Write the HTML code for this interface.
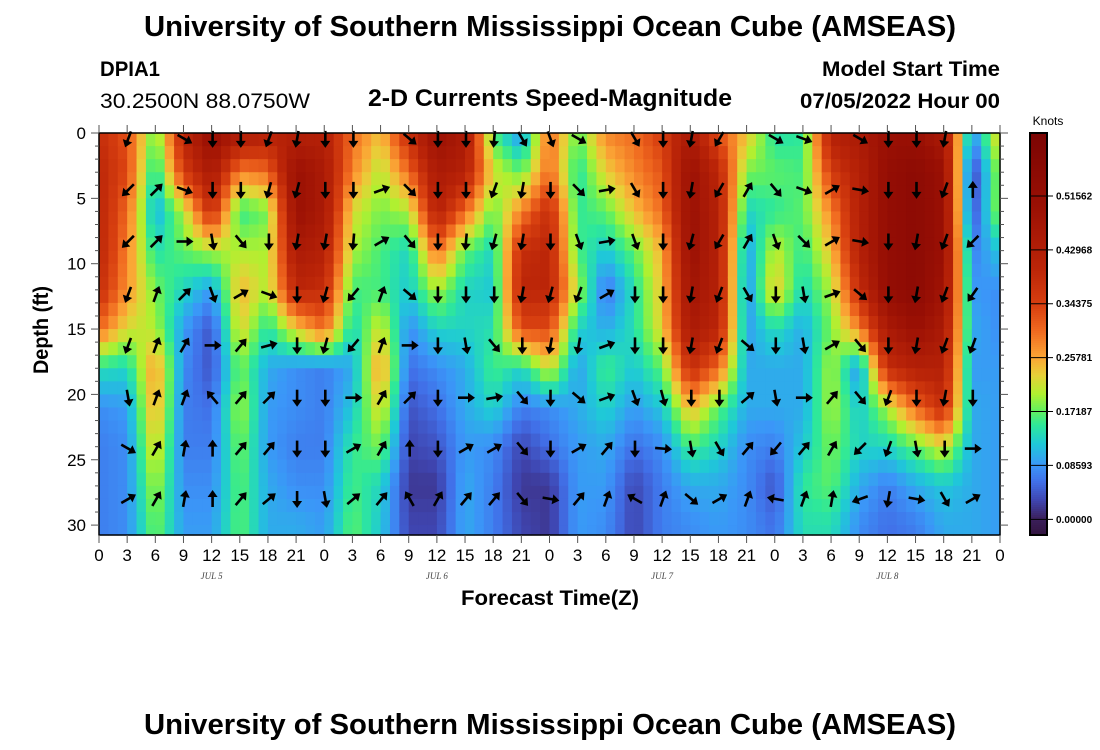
<!DOCTYPE html>
<html><head><meta charset="utf-8"><style>
html,body{margin:0;padding:0;background:#fff;}
svg{display:block;font-family:"Liberation Sans",sans-serif;}
</style></head><body>
<svg id="chart" width="1100" height="750" viewBox="0 0 1100 750" xmlns="http://www.w3.org/2000/svg">
<text x="550" y="36" text-anchor="middle" font-size="29" font-weight="bold" textLength="812" lengthAdjust="spacingAndGlyphs">University of Southern Mississippi Ocean Cube (AMSEAS)</text>
<text x="100" y="76" font-size="21" font-weight="bold" textLength="60" lengthAdjust="spacingAndGlyphs">DPIA1</text>
<text x="100" y="108" font-size="21" textLength="210" lengthAdjust="spacingAndGlyphs">30.2500N  88.0750W</text>
<text x="550" y="106" text-anchor="middle" font-size="24" font-weight="bold" textLength="364" lengthAdjust="spacingAndGlyphs">2-D Currents Speed-Magnitude</text>
<text x="1000" y="76" text-anchor="end" font-size="21" font-weight="bold" textLength="178" lengthAdjust="spacingAndGlyphs">Model Start Time</text>
<text x="1000" y="108" text-anchor="end" font-size="21" font-weight="bold" textLength="200" lengthAdjust="spacingAndGlyphs">07/05/2022 Hour 00</text>
<g id="heat"></g>
<g id="arrows"></g>
<g id="axes"></g>
<g id="cbar"></g>
<text x="48" y="330" transform="rotate(-90 48 330)" text-anchor="middle" font-size="21" font-weight="bold" textLength="88" lengthAdjust="spacingAndGlyphs">Depth (ft)</text>
<text x="550" y="605" text-anchor="middle" font-size="21" font-weight="bold" textLength="178" lengthAdjust="spacingAndGlyphs">Forecast Time(Z)</text>
<text x="550" y="734" text-anchor="middle" font-size="29" font-weight="bold" textLength="812" lengthAdjust="spacingAndGlyphs">University of Southern Mississippi Ocean Cube (AMSEAS)</text>
</svg>
<script>
const timeHours = [0,3,6,9,12,15,18,21,24,27,30,33,36,39,42,45,48,51,54,57,60,63,66,69,72,75,78,81,84,87,90,93,96];
const gridDepths = [0,3,6,9,12,15,18,21,24,27,30];
const speedByTime = [
[0.38,0.40,0.40,0.40,0.38,0.30,0.14,0.08,0.07,0.07,0.07],
[0.32,0.33,0.30,0.28,0.27,0.22,0.13,0.09,0.08,0.08,0.08],
[0.17,0.13,0.10,0.14,0.18,0.20,0.27,0.26,0.23,0.20,0.18],
[0.40,0.35,0.20,0.17,0.13,0.09,0.08,0.07,0.07,0.08,0.09],
[0.52,0.45,0.38,0.20,0.09,0.04,0.04,0.06,0.07,0.08,0.09],
[0.45,0.28,0.15,0.20,0.25,0.23,0.18,0.20,0.18,0.17,0.17],
[0.42,0.30,0.18,0.20,0.20,0.14,0.10,0.09,0.09,0.10,0.10],
[0.42,0.50,0.50,0.45,0.40,0.23,0.08,0.08,0.07,0.08,0.10],
[0.42,0.45,0.45,0.42,0.38,0.30,0.07,0.07,0.07,0.08,0.09],
[0.30,0.28,0.22,0.20,0.16,0.13,0.10,0.12,0.15,0.16,0.17],
[0.24,0.20,0.18,0.16,0.16,0.22,0.27,0.23,0.18,0.13,0.12],
[0.38,0.30,0.20,0.13,0.12,0.08,0.06,0.04,0.03,0.02,0.03],
[0.50,0.45,0.42,0.30,0.20,0.13,0.08,0.06,0.04,0.02,0.03],
[0.45,0.42,0.30,0.17,0.13,0.13,0.10,0.10,0.09,0.10,0.10],
[0.16,0.22,0.17,0.13,0.12,0.14,0.16,0.13,0.08,0.07,0.07],
[0.08,0.17,0.28,0.38,0.40,0.33,0.13,0.07,0.03,0.02,0.03],
[0.30,0.30,0.38,0.40,0.40,0.33,0.22,0.08,0.06,0.02,0.02],
[0.17,0.14,0.15,0.16,0.20,0.13,0.09,0.10,0.09,0.09,0.09],
[0.28,0.23,0.17,0.12,0.06,0.10,0.16,0.13,0.10,0.09,0.08],
[0.30,0.28,0.24,0.17,0.14,0.14,0.12,0.09,0.06,0.03,0.03],
[0.35,0.32,0.30,0.25,0.24,0.23,0.17,0.12,0.08,0.07,0.07],
[0.45,0.50,0.50,0.50,0.48,0.45,0.38,0.25,0.16,0.10,0.08],
[0.32,0.40,0.42,0.42,0.42,0.40,0.30,0.17,0.13,0.10,0.09],
[0.24,0.18,0.13,0.09,0.08,0.09,0.10,0.10,0.08,0.08,0.08],
[0.14,0.17,0.15,0.21,0.24,0.14,0.10,0.10,0.07,0.04,0.06],
[0.15,0.16,0.17,0.15,0.13,0.10,0.10,0.10,0.12,0.15,0.14],
[0.42,0.35,0.28,0.24,0.20,0.18,0.20,0.20,0.18,0.17,0.14],
[0.45,0.42,0.42,0.42,0.38,0.28,0.08,0.12,0.13,0.10,0.08],
[0.50,0.52,0.52,0.52,0.52,0.45,0.38,0.20,0.13,0.07,0.06],
[0.50,0.55,0.55,0.55,0.55,0.50,0.42,0.30,0.17,0.10,0.07],
[0.45,0.50,0.50,0.50,0.48,0.45,0.42,0.38,0.22,0.12,0.10],
[0.08,0.02,0.03,0.07,0.09,0.10,0.09,0.10,0.10,0.10,0.10],
[0.24,0.20,0.20,0.12,0.08,0.08,0.09,0.09,0.09,0.09,0.09]
];
const arrowHours = [3,6,9,12,15,18,21,24,27,30,33,36,39,42,45,48,51,54,57,60,63,66,69,72,75,78,81,84,87,90,93];
const arrowDepths = [0.45,4.35,8.3,12.35,16.25,20.25,24.15,28.0];
const arrowDir = [
[200,null,120,180,180,200,190,180,180,null,130,180,180,185,150,160,120,null,150,180,190,210,null,120,110,null,120,180,180,190,null],
[225,45,110,180,180,195,195,180,180,70,135,180,180,200,190,180,135,80,150,180,190,210,30,140,110,60,100,180,180,200,0],
[225,45,90,170,140,180,190,190,185,60,140,180,185,195,190,180,160,80,160,180,195,210,30,160,135,60,100,180,190,200,225],
[200,20,45,160,60,110,180,195,220,20,130,180,180,180,190,195,200,60,180,180,190,200,150,180,170,70,130,180,190,200,215],
[200,20,30,90,40,75,180,195,220,20,90,180,170,140,180,190,190,70,180,180,190,200,130,180,170,60,140,180,190,200,200],
[170,20,20,320,40,45,180,180,90,30,45,180,90,80,140,180,130,70,160,165,180,180,50,170,90,40,140,200,180,190,180],
[120,30,10,0,40,40,180,180,60,30,0,180,60,60,140,180,60,40,180,95,170,150,40,220,40,30,225,200,170,180,90],
[60,30,10,0,40,50,180,170,50,40,330,30,40,40,140,100,40,20,300,20,130,60,20,280,20,10,250,190,100,150,60]
];
const xTickLabels = ["0","3","6","9","12","15","18","21","0","3","6","9","12","15","18","21","0","3","6","9","12","15","18","21","0","3","6","9","12","15","18","21","0"];
const yTickLabels = ["0","5","10","15","20","25","30"];
const dayLabels = ["JUL 5","JUL 6","JUL 7","JUL 8"];
const dayHours = [12,36,60,84];
const cbarTickValues = [0.00000,0.08593,0.17187,0.25781,0.34375,0.42968,0.51562];

const NS='http://www.w3.org/2000/svg';
const X0=99,X1=1000,Y0=133,Y1=535,DMAX=(Y1-Y0)/13.07;
const xs=t=>X0+t*(X1-X0)/96;
const ys=d=>Y0+d*13.07;
const CB_TOP=133,CB_BOT=535,CB_VTOP=0.616,CB_VBOT=-0.025;
const cy=v=>CB_BOT-(v-CB_VBOT)/(CB_VTOP-CB_VBOT)*(CB_BOT-CB_TOP);
const stops=[[-0.03,'#30123b'],[0.0,'#3b1f5a'],[0.03,'#3f45b0'],[0.06,'#4170e8'],[0.086,'#3b96f8'],[0.12,'#1fc8d8'],[0.15,'#2ee89a'],[0.172,'#60f060'],[0.2,'#b0f030'],[0.23,'#e8d038'],[0.258,'#fba535'],[0.3,'#f06a20'],[0.34,'#d84010'],[0.4,'#bb2508'],[0.5,'#9a1004'],[0.62,'#7a0403']];
function hx(c){return [parseInt(c.slice(1,3),16),parseInt(c.slice(3,5),16),parseInt(c.slice(5,7),16)];}
function cmap(v){
  if(v<=stops[0][0])return stops[0][1];
  for(let i=1;i<stops.length;i++){if(v<=stops[i][0]){const a=stops[i-1],b=stops[i];const f=(v-a[0])/(b[0]-a[0]);const A=hx(a[1]),B=hx(b[1]);return 'rgb('+A.map((x,k)=>Math.round(x+(B[k]-x)*f)).join(',')+')';}}
  return stops[stops.length-1][1];
}
function mk(tag,attrs,parent){const e=document.createElementNS(NS,tag);for(const k in attrs)e.setAttribute(k,attrs[k]);parent.appendChild(e);return e;}
function interp(arr,x){
  if(x<=arr[0])return [0,0];
  for(let i=0;i<arr.length-1;i++){if(x<=arr[i+1])return [i,(x-arr[i])/(arr[i+1]-arr[i])];}
  return [arr.length-2,1];
}
function speedAt(t,d){
  const [i,fi]=interp(timeHours,t),[j,fj]=interp(gridDepths,d);
  const a=speedByTime[i][j],b=speedByTime[i][j+1],c=speedByTime[i+1][j],e=speedByTime[i+1][j+1];
  return (a*(1-fj)+b*fj)*(1-fi)+(c*(1-fj)+e*fj)*fi;
}
const heat=document.getElementById('heat');
for(let h=0;h<96;h++){
  for(let d=0;d<DMAX;d+=1){
    const v=speedAt(h+0.5,Math.min(d+0.5,30));
    const y0=ys(d),y1=Math.min(ys(d+1),Y1);
    const r=mk('rect',{x:xs(h).toFixed(2),y:y0.toFixed(2),width:(xs(h+1)-xs(h)+0.6).toFixed(2),height:(y1-y0+0.6).toFixed(2),fill:cmap(v)},heat);
    
    
  }
}
const ag=document.getElementById('arrows');
arrowDepths.forEach((d,ri)=>{
  arrowHours.forEach((t,ci)=>{
    const ang=arrowDir[ri][ci];
    if(ang===null)return;
    const cx=xs(t)+1,cyy=ys(d);
    const g=mk('g',{transform:`translate(${cx.toFixed(1)},${cyy.toFixed(1)}) rotate(${ang})`},ag);
    
    
    mk('line',{x1:0,y1:8,x2:0,y2:-3,stroke:'#000','stroke-width':2.6},g);
    mk('polygon',{points:'0,-9 -5,-2 5,-2',fill:'#000'},g);
  });
});
const ax=document.getElementById('axes');
const fr=mk('rect',{x:X0,y:Y0,width:X1-X0,height:Y1-Y0,fill:'none',stroke:'#000','stroke-width':1.5},ax);


for(let d=0;d<=31;d++){
  const y=ys(d);if(y>Y1)break;const L=d%5===0?8:4;
  mk('line',{x1:X0-L,y1:y,x2:X0,y2:y,stroke:'#555','stroke-width':1},ax);
  mk('line',{x1:X1,y1:y,x2:X1+L,y2:y,stroke:'#555','stroke-width':1},ax);
}
yTickLabels.forEach((lab,i)=>{
  const t=mk('text',{x:X0-13,y:ys(i*5)+6,'text-anchor':'end','font-size':17},ax);t.textContent=lab;
  
  
});
xTickLabels.forEach((lab,i)=>{
  const x=xs(i*3);
  mk('line',{x1:x,y1:Y0-8,x2:x,y2:Y0,stroke:'#555','stroke-width':1},ax);
  mk('line',{x1:x,y1:Y1,x2:x,y2:Y1+8,stroke:'#555','stroke-width':1},ax);
  const t=mk('text',{x:x,y:Y1+26,'text-anchor':'middle','font-size':17},ax);t.textContent=lab;
  
  
});
dayLabels.forEach((lab,i)=>{
  const t=mk('text',{x:xs(dayHours[i]),y:Y1+44,'text-anchor':'middle','font-size':9,'font-style':'italic','font-family':'Liberation Serif, serif',fill:'#444'},ax);t.textContent=lab;
  
  
});
const cb=document.getElementById('cbar');
for(let y=CB_TOP;y<CB_BOT;y+=2){
  const v=CB_VBOT+(CB_BOT-y-1)/(CB_BOT-CB_TOP)*(CB_VTOP-CB_VBOT);
  mk('rect',{x:1030,y:y,width:17,height:2.6,fill:cmap(v)},cb);
}
const cf=mk('rect',{x:1030,y:CB_TOP,width:17,height:CB_BOT-CB_TOP,fill:'none',stroke:'#000','stroke-width':2},cb);


const kt=mk('text',{x:1048,y:125,'text-anchor':'middle','font-size':12},cb);kt.textContent='Knots';


cbarTickValues.forEach(v=>{
  const y=cy(v);
  mk('line',{x1:1030,y1:y,x2:1053,y2:y,stroke:'#000','stroke-width':1},cb);
  const t=mk('text',{x:1056,y:y+3.5,'font-size':10,'font-weight':'bold'},cb);t.textContent=v.toFixed(5);
  
  
});
</script>
</body></html>
